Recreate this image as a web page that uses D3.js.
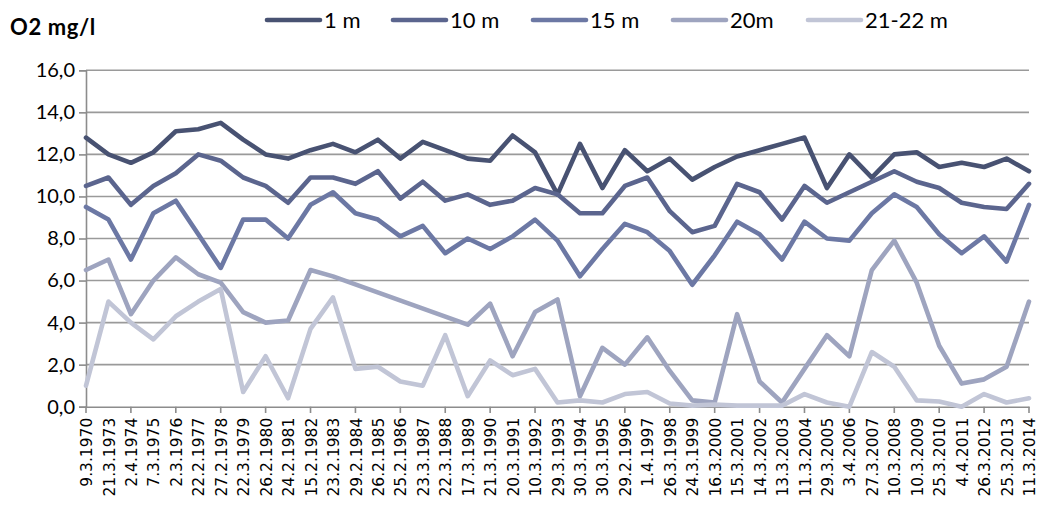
<!DOCTYPE html>
<html>
<head>
<meta charset="utf-8">
<script src="https://cdn.jsdelivr.net/npm/d3@7"></script>
<style>
  html, body { margin: 0; padding: 0; background: #fff; }
  svg { display: block; }
</style>
</head>
<body>
<svg id="chart" width="1040" height="509"></svg>
<script>
const categories = ["9.3.1970","21.3.1973","2.4.1974","7.3.1975","2.3.1976","22.2.1977","27.2.1978","22.3.1979","26.2.1980","24.2.1981","15.2.1982","23.2.1983","29.2.1984","26.2.1985","25.2.1986","23.3.1987","22.3.1988","17.3.1989","21.3.1990","20.3.1991","10.3.1992","29.3.1993","30.3.1994","30.3.1995","29.2.1996","1.4.1997","26.3.1998","24.3.1999","16.3.2000","15.3.2001","14.3.2002","13.3.2003","11.3.2004","29.3.2005","3.4.2006","27.3.2007","10.3.2008","10.3.2009","25.3.2010","4.4.2011","26.3.2012","25.3.2013","11.3.2014"];

const seriesNames = ["1 m", "10 m", "15 m", "20m", "21-22 m"];

const s1m   = [12.8,12.0,11.6,12.1,13.1,13.2,13.5,12.7,12.0,11.8,12.2,12.5,12.1,12.7,11.8,12.6,12.2,11.8,11.7,12.9,12.1,10.1,12.5,10.4,12.2,11.2,11.8,10.8,11.4,11.9,12.2,12.5,12.8,10.4,12.0,10.9,12.0,12.1,11.4,11.6,11.4,11.8,11.2];
const s10m  = [10.5,10.9,9.6,10.5,11.1,12.0,11.7,10.9,10.5,9.7,10.9,10.9,10.6,11.2,9.9,10.7,9.8,10.1,9.6,9.8,10.4,10.1,9.2,9.2,10.5,10.9,9.3,8.3,8.6,10.6,10.2,8.9,10.5,9.7,10.2,10.7,11.2,10.7,10.4,9.7,9.5,9.4,10.6];
const s15m  = [9.5,8.9,7.0,9.2,9.8,8.2,6.6,8.9,8.9,8.0,9.6,10.2,9.2,8.9,8.1,8.6,7.3,8.0,7.5,8.1,8.9,7.9,6.2,7.5,8.7,8.3,7.4,5.8,7.2,8.8,8.2,7.0,8.8,8.0,7.9,9.2,10.1,9.5,8.2,7.3,8.1,6.9,9.6];
const s20m  = [6.5,7.0,4.4,6.0,7.1,6.3,5.9,4.5,4.0,4.1,6.5,6.2,null,null,null,null,null,3.9,4.9,2.4,4.5,5.1,0.5,2.8,2.0,3.3,1.7,0.3,0.2,4.4,1.2,0.2,1.8,3.4,2.4,6.5,7.9,5.9,2.9,1.1,1.3,1.9,5.0];
const s2122 = [1.0,5.0,4.0,3.2,4.3,5.0,5.6,0.7,2.4,0.4,3.7,5.2,1.8,1.9,1.2,1.0,3.4,0.5,2.2,1.5,1.8,0.2,0.3,0.2,0.6,0.7,0.15,0.05,0.1,0.05,0.05,0.05,0.6,0.2,0.0,2.6,1.9,0.3,0.25,0.0,0.6,0.2,0.4];

const yTicks = [0, 2, 4, 6, 8, 10, 12, 14, 16];
const colors = ["#485272", "#5b658e", "#6c78a4", "#9ea4bf", "#c1c5d6"];

const allSeries = [s1m, s10m, s15m, s20m, s2122];

const svg = d3.select("#chart");

const x = d3.scalePoint().domain(categories).range([86, 1029]);
const y = d3.scaleLinear().domain([0, 16]).range([406.7, 70.3]);

// gridlines
svg.append("g")
  .selectAll("line")
  .data(yTicks.filter(d => d > 0))
  .join("line")
  .attr("x1", 86).attr("x2", 1029)
  .attr("y1", d => y(d)).attr("y2", d => y(d))
  .attr("stroke", "#9a9a9a").attr("stroke-width", 1.6);

// y axis
const yAxis = svg.append("g")
  .attr("transform", "translate(86,0)")
  .call(d3.axisLeft(y).tickValues(yTicks).tickSize(7).tickPadding(4)
    .tickFormat(d => d3.format(".1f")(d).replace(".", ",")));
yAxis.select(".domain").attr("stroke", "#8c8c8c").attr("stroke-width", 1.6);
yAxis.selectAll(".tick line").attr("stroke", "#8c8c8c").attr("stroke-width", 1.6);
yAxis.selectAll(".tick text")
  .attr("font-family", "Lato, sans-serif").attr("font-size", 20).attr("fill", "#000");

// x axis
const tickCats = categories.filter((d, i) => i % 2 === 0);
const xAxis = svg.append("g")
  .attr("transform", "translate(0,406.7)")
  .call(d3.axisBottom(x).tickValues(categories).tickSize(0).tickSizeOuter(0).tickPadding(0));
xAxis.select(".domain").attr("stroke", "#8c8c8c").attr("stroke-width", 1.6);
xAxis.selectAll(".tick line").remove();
xAxis.selectAll(".tick text")
  .attr("font-family", "DejaVu Sans, sans-serif").attr("font-size", 15.5).attr("fill", "#000")
  .attr("text-anchor", "end")
  .attr("transform", "translate(0,11) rotate(-90)")
  .attr("x", 0).attr("y", 0).attr("dy", "0.36em");
svg.append("g")
  .selectAll("line")
  .data(tickCats)
  .join("line")
  .attr("x1", d => x(d)).attr("x2", d => x(d))
  .attr("y1", 406.7).attr("y2", 413)
  .attr("stroke", "#8c8c8c").attr("stroke-width", 1.6);

// lines
const line = d3.line()
  .x(d => x(d.c))
  .y(d => y(d.v));

allSeries.forEach((s, k) => {
  const pts = s.map((v, i) => ({ c: categories[i], v })).filter(d => d.v !== null);
  svg.append("path")
    .datum(pts)
    .attr("d", line)
    .attr("fill", "none")
    .attr("stroke", colors[k])
    .attr("stroke-width", 4.6)
    .attr("stroke-linejoin", "round")
    .attr("stroke-linecap", "round");
});

// title
svg.append("text")
  .attr("x", 10).attr("y", 35)
  .attr("font-family", "Lato, sans-serif").attr("font-weight", "bold")
  .attr("font-size", 22).attr("letter-spacing", 0.6).attr("fill", "#000")
  .text("O2 mg/l");

// legend
const legendX = [267, 393, 533, 673, 808];
const lg = svg.append("g");
seriesNames.forEach((name, k) => {
  lg.append("line")
    .attr("x1", legendX[k]).attr("x2", legendX[k] + 53)
    .attr("y1", 20).attr("y2", 20)
    .attr("stroke", colors[k]).attr("stroke-width", 4.6)
    .attr("stroke-linecap", "round");
  lg.append("text")
    .attr("x", legendX[k] + 57).attr("y", 28)
    .attr("font-family", "Lato, sans-serif").attr("font-size", 22).attr("fill", "#000")
    .text(name);
});
</script>
</body>
</html>
